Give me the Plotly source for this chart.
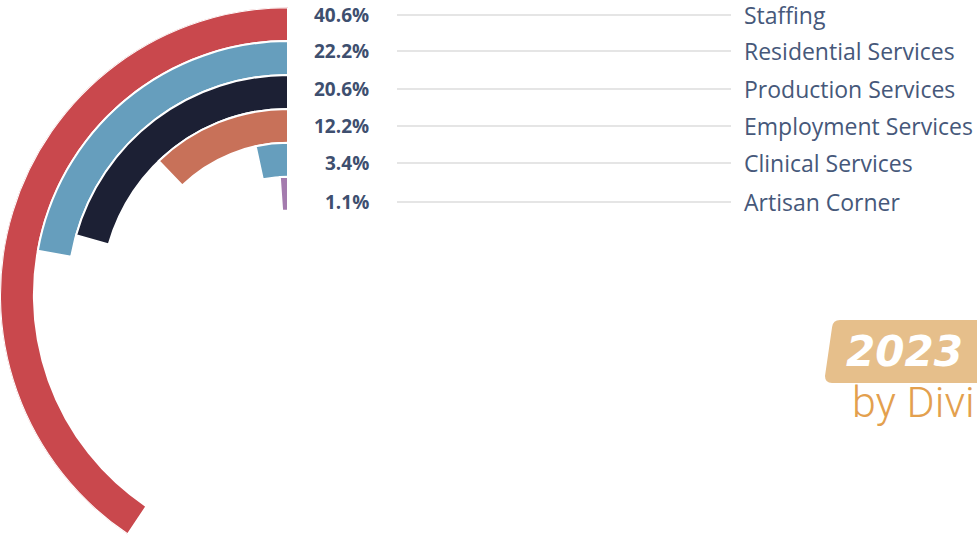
import plotly.graph_objects as go

# ---- data ----
categories = ["Staffing", "Residential Services", "Production Services",
              "Employment Services", "Clinical Services", "Artisan Corner"]
shares = [40.6, 22.2, 20.6, 12.2, 3.4, 1.1]
share_labels = ["40.6%", "22.2%", "20.6%", "12.2%", "3.4%", "1.1%"]
colors = ["#C9484D", "#669EBD", "#1C2034", "#C87159", "#669EBD", "#A47BAE"]
badge_year = "2023"
badge_sub = "by Divi"

W, H = 977, 537
def X(px): return px / W
def Y(py): return 1 - py / H

fig = go.Figure()

n = len(categories)
for i, (cat, s, c) in enumerate(zip(categories, shares, colors)):
    span = s * 3.6
    fig.add_trace(go.Barpolar(
        r=[1], base=[n + 1.5 - i], theta=[span / 2], width=[span],
        marker=dict(color=c, line=dict(color="white", width=2)),
        name=cat, showlegend=False, hoverinfo="skip"))

fig.update_layout(
    width=W, height=H, margin=dict(l=0, r=0, t=0, b=0),
    paper_bgcolor="white", plot_bgcolor="white",
    polar=dict(
        domain=dict(x=[0, X(288)], y=[0, Y(7)]),
        sector=[90, 237],
        bgcolor="white",
        radialaxis=dict(range=[0, n + 2.5], visible=False, showgrid=False),
        angularaxis=dict(rotation=90, direction="counterclockwise",
                         visible=False, showgrid=False, thetaunit="degrees"),
        bargap=0,
    ),
)

label_y = [15, 51, 89, 126, 163, 202]
shapes = []
annotations = []
for cat, lab, py in zip(categories, share_labels, label_y):
    shapes.append(dict(type="line", xref="paper", yref="paper",
                       x0=X(397), x1=X(731), y0=Y(py), y1=Y(py),
                       line=dict(color="#DCDCDC", width=1.5)))
    annotations.append(dict(xref="paper", yref="paper", x=X(371), y=Y(py),
                            xanchor="right", yanchor="middle", showarrow=False,
                            text=lab, font=dict(family="Open Sans", size=19,
                                                color="#3E4F6F", weight=700)))
    annotations.append(dict(xref="paper", yref="paper", x=X(742), y=Y(py),
                            xanchor="left", yanchor="middle", showarrow=False,
                            text=cat, font=dict(family="Open Sans", size=23,
                                                color="#46587A")))

# badge: slanted rounded box
def P(px, py): return f"{X(px):.5f},{Y(py):.5f}"
r = 7
path = ("M " + P(833 + r, 320) + " L " + P(990, 320) + " L " + P(990, 383) +
        " L " + P(825 + r, 383) + " Q " + P(825, 383) + " " + P(825, 383 - r) +
        " L " + P(833 - 0.9, 320 + r) + " Q " + P(833, 320) + " " + P(833 + r, 320) + " Z")
shapes.append(dict(type="path", xref="paper", yref="paper", path=path,
                   fillcolor="#E6BF8B", line=dict(width=0), layer="below"))
annotations.append(dict(xref="paper", yref="paper", x=X(844), y=Y(351),
                        xanchor="left", yanchor="middle", showarrow=False,
                        text=badge_year,
                        font=dict(family="DejaVu Sans", size=42, color="white",
                                  weight="bold", style="italic")))
annotations.append(dict(xref="paper", yref="paper", x=X(850), y=Y(402),
                        xanchor="left", yanchor="middle", showarrow=False,
                        text=badge_sub,
                        font=dict(family="Roboto", size=43, color="#E3A04E",
                                  weight=300)))

fig.update_layout(shapes=shapes, annotations=annotations)
fig.write_html("out.html", config={"displayModeBar": False},
               post_script="document.body.style.margin='0px';"
                           "document.body.style.overflow='hidden';")
